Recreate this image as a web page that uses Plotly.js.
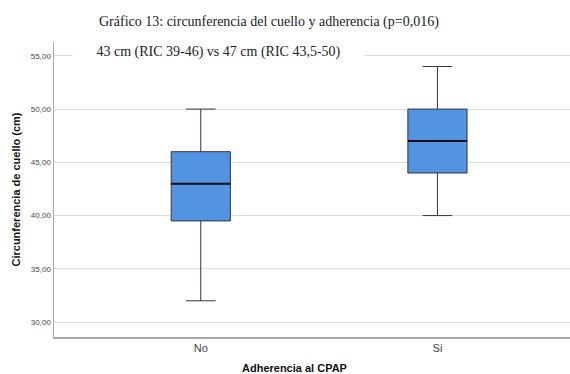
<!DOCTYPE html>
<html>
<head>
<meta charset="utf-8">
<script src="https://cdn.plot.ly/plotly-3.0.1.min.js"></script>
<style>html,body{margin:0;padding:0;background:#fff;}#chart{width:570px;height:374px;}</style>
</head>
<body>
<div id="chart"></div>
<script>
// Data
const categories = ["No", "Si"];
const lowerWhisker = [32, 40];
const q1 = [39.5, 44];
const medians = [43, 47];
const q3 = [46, 50];
const upperWhisker = [50, 54];
const yTicks = [30, 35, 40, 45, 50, 55];
const titleLine1 = "Gráfico 13: circunferencia del cuello y adherencia (p=0,016)";
const titleLine2 = "43 cm (RIC 39-46) vs 47 cm (RIC 43,5-50)";

const boxWidth = 0.25;

const trace = {
  type: "box",
  x: categories,
  q1: q1,
  median: medians,
  q3: q3,
  lowerfence: lowerWhisker,
  upperfence: upperWhisker,
  width: boxWidth,
  whiskerwidth: 0.5,
  fillcolor: "#5294e2",
  line: {color: "#2f3640", width: 1},
  boxpoints: false,
  hoverinfo: "skip",
  showlegend: false
};

// Thicker median lines, drawn through the axis scales from the medians array
const shapes = medians.map((m, i) => ({
  type: "line", xref: "x", yref: "y",
  x0: i - boxWidth / 2, x1: i + boxWidth / 2, y0: m, y1: m,
  line: {color: "#111", width: 2}
}));

const layout = {
  width: 570, height: 374,
  margin: {l: 54, r: 0, t: 42, b: 37},
  paper_bgcolor: "#fff", plot_bgcolor: "#fff",
  separators: ",.",
  font: {family: "Arial, Liberation Sans, sans-serif", color: "#333"},
  xaxis: {
    type: "category",
    range: [-0.62, 1.56],
    showgrid: false, zeroline: false,
    showline: true, linecolor: "#a8a8a8", linewidth: 1.5,
    ticks: "", tickfont: {size: 11, color: "#444"},
    fixedrange: true
  },
  yaxis: {
    range: [28.6, 56.3],
    tickvals: yTicks, tickformat: ".2f",
    showgrid: true, gridcolor: "#dcdcdc", gridwidth: 1,
    zeroline: false,
    showline: true, linecolor: "#a8a8a8", linewidth: 1.5,
    ticks: "", tickfont: {size: 8, color: "#444"},
    title: {text: "<b>Circunferencia de cuello (cm)</b>", font: {size: 11, color: "#111"}, standoff: 8},
    fixedrange: true
  },
  shapes: shapes,
  annotations: [
    {xref: "paper", yref: "paper", x: 0.0833, y: 1.0, xanchor: "left", yanchor: "middle",
     yshift: 20, text: titleLine1, showarrow: false,
     font: {family: "Liberation Serif, serif", size: 14, color: "#222"}},
    {xref: "paper", yref: "paper", x: 0.035, y: 1.0, xanchor: "left", yanchor: "middle",
     yshift: -10, text: titleLine2, showarrow: false, bgcolor: "#fff", borderpad: 0,
     width: 291, height: 24, align: "center",
     font: {family: "Liberation Serif, serif", size: 14, color: "#222"}},
    {xref: "paper", yref: "paper", x: 0.466, y: 0, xanchor: "center", yanchor: "middle",
     yshift: -31, text: "<b>Adherencia al CPAP</b>", showarrow: false,
     font: {size: 11, color: "#111"}}
  ]
};

Plotly.newPlot("chart", [trace], layout, {displayModeBar: false, staticPlot: true});
</script>
</body>
</html>
